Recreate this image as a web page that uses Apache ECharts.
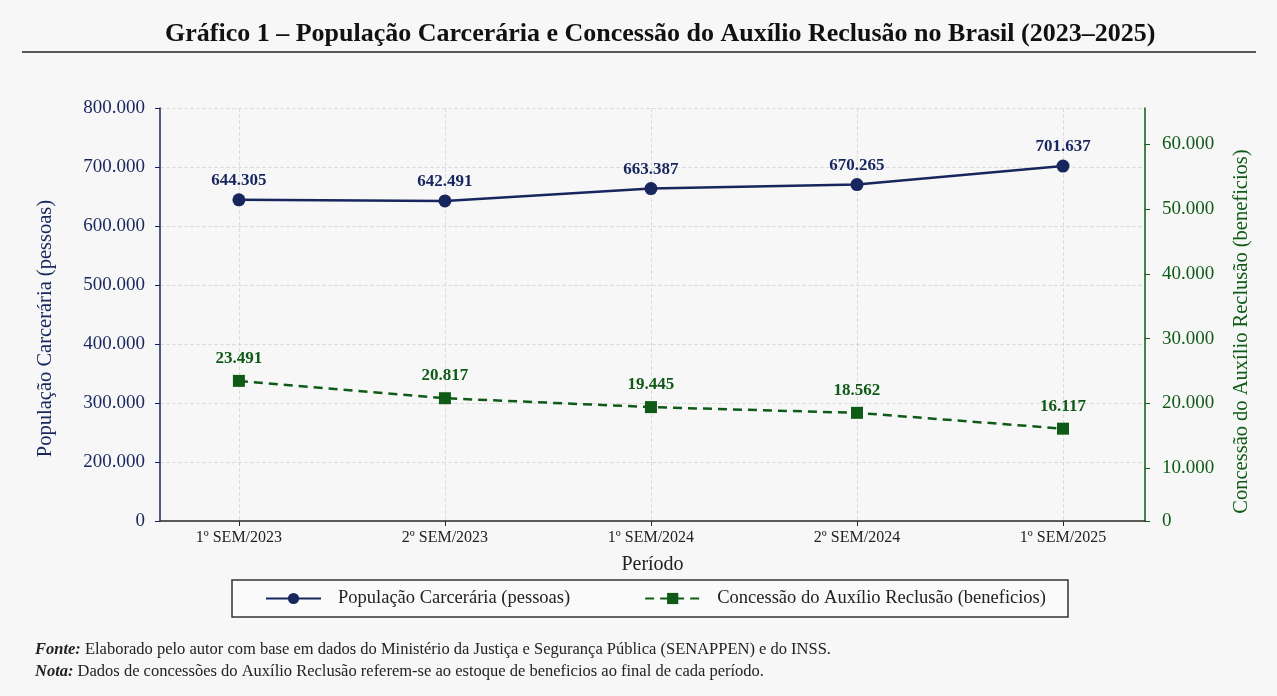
<!DOCTYPE html>
<html>
<head>
<meta charset="utf-8">
<script src="https://cdn.jsdelivr.net/npm/echarts/dist/echarts.min.js"></script>
<style>
  html, body { margin: 0; padding: 0; background: #f7f7f7; }
  #chart { width: 1277px; height: 696px; }
</style>
</head>
<body>
<div id="chart"></div>
<script>
// dados
const periodos = ['1º SEM/2023', '2º SEM/2023', '1º SEM/2024', '2º SEM/2024', '1º SEM/2025'];
const populacao = [644305, 642491, 663387, 670265, 701637];
const auxilio = [23491, 20817, 19445, 18562, 16117];
const ticksEsq = [100000, 200000, 300000, 400000, 500000, 600000, 700000, 800000];
const ticksDir = [10000, 20000, 30000, 40000, 50000, 60000];

const serif = '"Liberation Serif", "DejaVu Serif", serif';
const azul = '#17275e';
const verde = '#0f5a17';

function fmt (v) {
  return String(Math.round(v)).replace(/\B(?=(\d{3})+(?!\d))/g, '.');
}

const chart = echarts.init(document.getElementById('chart'));

const dirMin = 1870;
const dirMax = 65600;
const posX = periodos.map((p, i) => i);

const option = {
  backgroundColor: '#f7f7f7',
  animation: false,
  title: {
    text: 'Gráfico 1 – População Carcerária e Concessão do Auxílio Reclusão no Brasil (2023–2025)',
    left: 160,
    top: 16,
    textStyle: { fontFamily: serif, fontSize: 26, fontWeight: 'bold', color: '#111' }
  },
  grid: { left: 160, right: 132, top: 108, bottom: 175 },
  legend: {
    left: 232,
    top: 580,
    padding: [9, 22, 9, 33],
    itemGap: 74,
    itemWidth: 55,
    itemHeight: 14,
    borderColor: '#333',
    borderWidth: 1.5,
    backgroundColor: '#fafafa',
    textStyle: { fontFamily: serif, fontSize: 18.5, color: '#222', padding: [0, 0, 0, 12] },
    data: ['População Carcerária (pessoas)', 'Concessão do Auxílio Reclusão (beneficios)']
  },
  xAxis: {
    type: 'value',
    min: -0.383,
    max: 4.398,
    name: 'Período',
    nameLocation: 'middle',
    nameGap: 34,
    nameTextStyle: { fontFamily: serif, fontSize: 20, color: '#222' },
    axisLine: { show: true, onZero: false, lineStyle: { color: '#2a2a2a', width: 1.5 } },
    axisTick: { show: true, length: 5, customValues: posX, lineStyle: { color: '#2a2a2a' } },
    axisLabel: {
      customValues: posX,
      formatter: v => periodos[Math.round(v)],
      fontFamily: serif, fontSize: 16, color: '#222', margin: 9
    },
    splitLine: { show: true, lineStyle: { type: 'dashed', color: '#dcdcdc' } }
  },
  yAxis: [
    {
      type: 'value',
      position: 'left',
      min: 100000,
      max: 800000,
      interval: 100000,
      name: 'População Carcerária (pessoas)',
      nameLocation: 'middle',
      nameGap: 104,
      nameTextStyle: { fontFamily: serif, fontSize: 20.5, color: azul, padding: [0, 28, 0, 0] },
      axisLine: { show: true, onZero: false, lineStyle: { color: azul, width: 1.5 } },
      axisTick: { show: true, length: 5, lineStyle: { color: azul } },
      axisLabel: {
        formatter: v => (v === ticksEsq[0] ? '0' : fmt(v)),
        fontFamily: serif, fontSize: 19, color: azul, margin: 15
      },
      splitLine: { show: true, lineStyle: { type: 'dashed', color: '#dcdcdc' } }
    },
    {
      type: 'value',
      position: 'right',
      min: dirMin,
      max: dirMax,
      name: 'Concessão do Auxílio Reclusão (beneficios)',
      nameLocation: 'middle',
      nameGap: 86,
      nameRotate: 90,
      nameTextStyle: { fontFamily: serif, fontSize: 20.5, color: verde, padding: [0, 34, 0, 0] },
      axisLine: { show: true, onZero: false, lineStyle: { color: verde, width: 1.5 } },
      axisTick: { show: true, length: 5, customValues: [dirMin].concat(ticksDir), lineStyle: { color: verde } },
      axisLabel: {
        customValues: [dirMin].concat(ticksDir),
        formatter: v => (v < ticksDir[0] ? '0' : fmt(v)),
        fontFamily: serif, fontSize: 19, color: verde, margin: 17
      },
      splitLine: { show: false }
    }
  ],
  series: [
    {
      name: 'População Carcerária (pessoas)',
      type: 'line',
      yAxisIndex: 0,
      data: populacao.map((v, i) => [i, v]),
      symbol: 'circle',
      symbolSize: 13,
      color: azul,
      lineStyle: { color: azul, width: 2.5 },
      itemStyle: { color: azul },
      label: {
        show: true,
        position: 'top',
        distance: 4,
        formatter: p => fmt(p.value[1]),
        fontFamily: serif, fontSize: 17, fontWeight: 'bold', color: azul
      },
      z: 3
    },
    {
      name: 'Concessão do Auxílio Reclusão (beneficios)',
      type: 'line',
      yAxisIndex: 1,
      data: auxilio.map((v, i) => [i, v]),
      symbol: 'rect',
      symbolSize: 12,
      color: verde,
      lineStyle: { color: verde, width: 2.5, type: [9, 6] },
      itemStyle: { color: verde },
      label: {
        show: true,
        position: 'top',
        distance: 8,
        formatter: p => fmt(p.value[1]),
        fontFamily: serif, fontSize: 17, fontWeight: 'bold', color: verde
      },
      z: 3
    }
  ],
  graphic: [
    {
      type: 'line',
      shape: { x1: 22, y1: 52, x2: 1256, y2: 52 },
      style: { stroke: '#222', lineWidth: 1.5 }
    },
    {
      type: 'text',
      left: 35,
      top: 641,
      style: {
        text: '{b|Fonte:} Elaborado pelo autor com base em dados do Ministério da Justiça e Segurança Pública (SENAPPEN) e do INSS.',
        font: '16.5px ' + serif,
        fill: '#222',
        rich: { b: { fontStyle: 'italic', fontWeight: 'bold', fontFamily: serif, fontSize: 16.5, fill: '#222' } }
      }
    },
    {
      type: 'text',
      left: 35,
      top: 663,
      style: {
        text: '{b|Nota:} Dados de concessões do Auxílio Reclusão referem-se ao estoque de beneficios ao final de cada período.',
        font: '16.5px ' + serif,
        fill: '#222',
        rich: { b: { fontStyle: 'italic', fontWeight: 'bold', fontFamily: serif, fontSize: 16.5, fill: '#222' } }
      }
    }
  ]
};

chart.setOption(option);
</script>
</body>
</html>
